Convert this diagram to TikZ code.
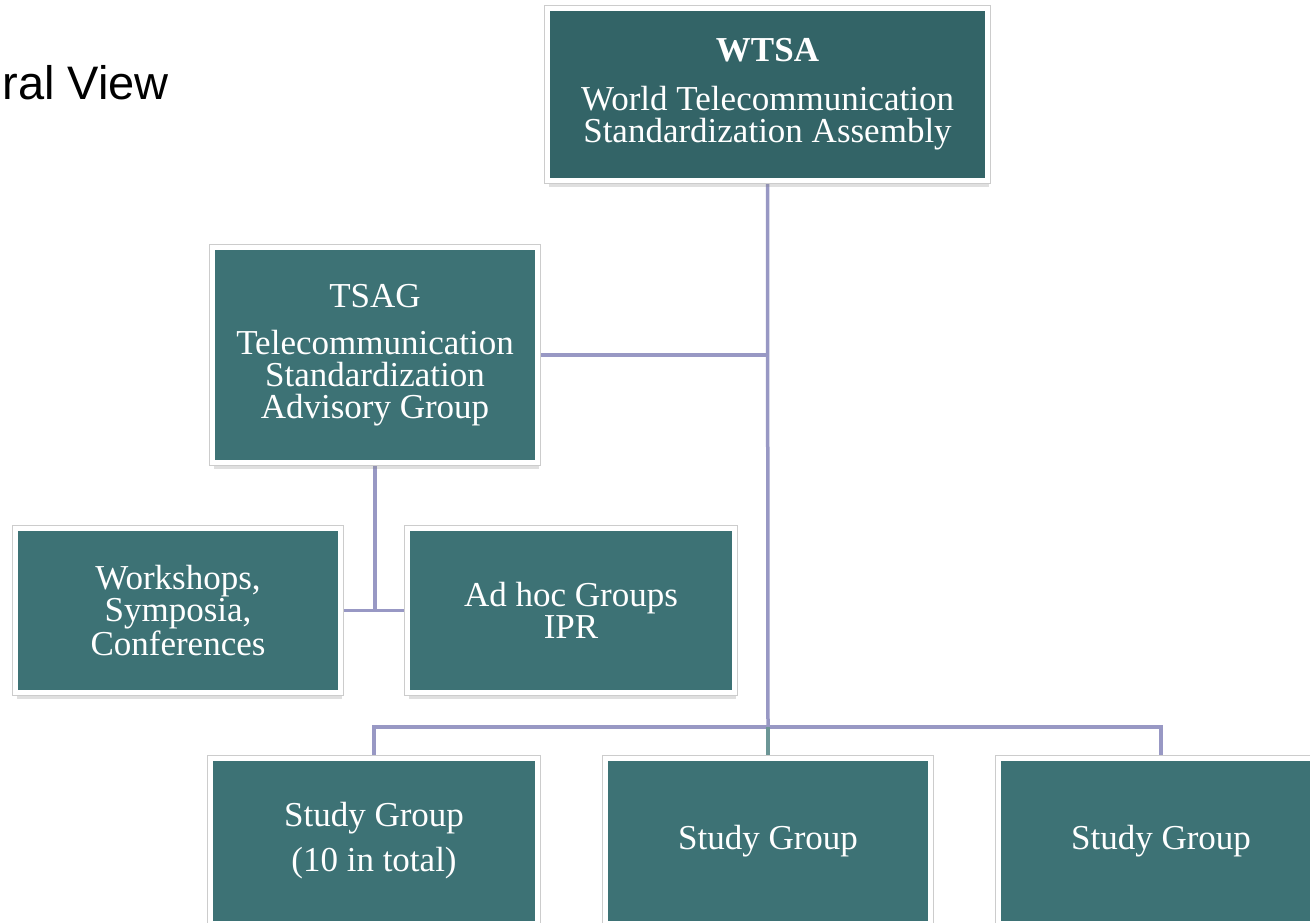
\documentclass[tikz,border=0pt]{standalone}
\usepackage{fontspec}
\setmainfont{Liberation Serif}
\newfontfamily\headfont{Liberation Sans}
\usepackage{tikz}
\usetikzlibrary{shadows, backgrounds}
\usepackage{xcolor}
\definecolor{wtsateal}{RGB}{51,100,103}
\definecolor{unitteal}{RGB}{61,114,117}
\definecolor{linklilac}{RGB}{152,152,196}
\definecolor{linkteal}{RGB}{108,150,150}
\tikzset{
    unit/.style = {rectangle, drop shadow={shadow xshift=1.5pt, shadow yshift=-6.5pt, opacity=0.25},
        preaction={draw=black!20, line width=6.5pt},
        fill=unitteal, draw=white, line width=5pt, text=white, align=center, inner sep=0pt,
        minimum width=325pt, minimum height=164pt, font=\fontsize{35}{32}\selectfont},
    link/.style = {draw=linklilac, line width=3.5pt}
}

\begin{document}
\begin{tikzpicture}[x=1pt, y=-1pt]
    \useasboundingbox (0,0) rectangle (1310,923);
    \clip (0,0) rectangle (1310,923);
    \node[anchor=base west, font=\headfont\fontsize{47}{47}\selectfont] (title) at (-1,100) {ral View};
    % boxes
    \node[unit, fill=wtsateal, minimum width=440pt, minimum height=172pt] (wtsa) at (767.5,94.5)
        {\textbf{WTSA}\\[17pt]World Telecommunication\\Standardization Assembly};
    \node[unit, minimum height=215pt] (tsag) at (375,355)
        {TSAG\\[15pt]Telecommunication\\Standardization\\Advisory Group};
    \node[unit] (ws) at (178,610.5) {Workshops,\\Symposia,\\Conferences};
    \node[unit, minimum width=327pt] (adhoc) at (571,610.5) {Ad hoc Groups\\IPR};
    \node[unit, minimum width=327pt, minimum height=165pt] (sg1) at (374,841) {Study Group\\[13pt](10 in total)};
    \node[unit, minimum height=165pt] (sg2) at (768,841) {Study Group};
    \node[unit, minimum height=165pt] (sg3) at (1161,841) {Study Group};
    % connectors
    \coordinate (bus) at (768,727);
    \begin{scope}[on background layer]
        \draw[link] (wtsa.south) -- (bus);
        \draw[link] (tsag.east) -- (tsag.east -| wtsa.south);
        \draw[link] (tsag.south) -- (tsag.south |- ws.east);
        \draw[link] (ws.east) -- (adhoc.west);
        \draw[link] (sg1.north) |- (bus) -| (sg3.north);
        \draw[link, draw=linkteal] (bus) -- (sg2.north);
    \end{scope}
\end{tikzpicture}
\end{document}
